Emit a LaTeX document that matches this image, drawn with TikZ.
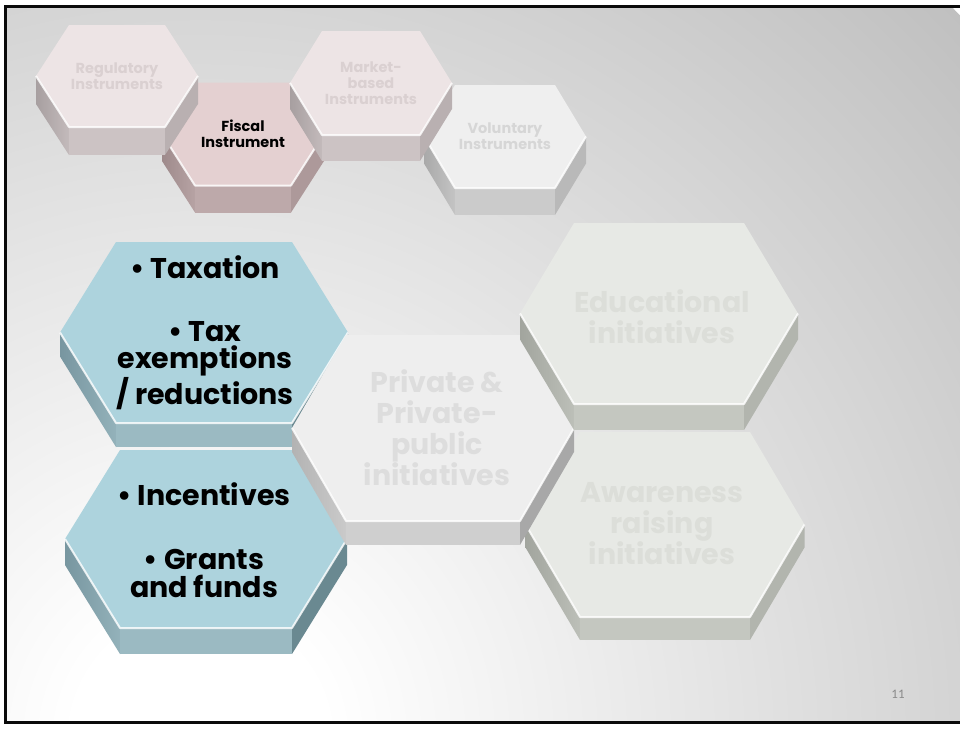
\documentclass[tikz,border=0pt]{standalone}
\usepackage{fontspec}
\setmainfont{Poppins}
\newfontfamily\pagenumfont{Carlito}

% palette
\definecolor{bgdark}{HTML}{C0C0C0}
\definecolor{frameblack}{HTML}{0A0A0A}
% pale rose
\definecolor{roseLtFace}{HTML}{EDE4E5}
\definecolor{roseLtBottom}{HTML}{CCC3C4}
\definecolor{roseLtSideA}{HTML}{A79FA0}
\definecolor{roseLtSideB}{HTML}{C3BABB}
\definecolor{roseLtRight}{HTML}{B9B0B1}
\definecolor{roseLtText}{HTML}{DAD0D1}
% rose (selected)
\definecolor{roseFace}{HTML}{E4D0D1}
\definecolor{roseBottom}{HTML}{BDA9AA}
\definecolor{roseSideA}{HTML}{9E8A8B}
\definecolor{roseSideB}{HTML}{B7A3A4}
\definecolor{roseRight}{HTML}{AD999A}
% silver
\definecolor{silverFace}{HTML}{EFEFEF}
\definecolor{silverBottom}{HTML}{CBCBCB}
\definecolor{silverSideA}{HTML}{A9A9A9}
\definecolor{silverSideB}{HTML}{C4C4C4}
\definecolor{silverRight}{HTML}{B9B9B9}
\definecolor{silverText}{HTML}{D6D6D6}
% blue
\definecolor{blueFace}{HTML}{ADD3DD}
\definecolor{blueBottom}{HTML}{9BBAC2}
\definecolor{blueSideA}{HTML}{7896A0}
\definecolor{blueSideB}{HTML}{93B2BA}
\definecolor{blueRight}{HTML}{6A8991}
% pale grey
\definecolor{paleFace}{HTML}{EEEEEE}
\definecolor{paleBottom}{HTML}{CFCFCF}
\definecolor{paleSideA}{HTML}{B3B3B3}
\definecolor{paleSideB}{HTML}{CACACA}
\definecolor{paleRight}{HTML}{A8A8A8}
\definecolor{paleText}{HTML}{DDDDDD}
% sage
\definecolor{sageFace}{HTML}{E7E9E5}
\definecolor{sageBottom}{HTML}{C4C7C0}
\definecolor{sageSideA}{HTML}{A2A59E}
\definecolor{sageSideB}{HTML}{BCBFB8}
\definecolor{sageRight}{HTML}{B2B5AE}
\definecolor{sageText}{HTML}{DCDED9}
\definecolor{pagenum}{HTML}{8A8A8A}

% slide backdrop: white in the lower left, grey towards the upper right
\pgfdeclareradialshading{backdrop}{\pgfpoint{0bp}{0bp}}{color(0bp)=(white); color(3bp)=(white); color(25bp)=(bgdark); color(50bp)=(bgdark)}

\tikzset{
  hexlabel/.style={align=center, inner sep=0pt},
  smalltext/.style={hexlabel, font=\bfseries\fontsize{14.5}{16}\selectfont},
  bigtext/.style={hexlabel, font=\bfseries\fontsize{28.5}{31}\selectfont},
  bluetext/.style={hexlabel, font=\bfseries\fontsize{28.5}{27.5}\selectfont, text=black},
  bevel/.style={draw=white, line width=2pt, draw opacity=0.8, line join=round},
  % colour sets for the hexagonal cells
  pRoseLt-face/.style={fill=roseLtFace},
  pRoseLt-bottom/.style={fill=roseLtBottom},
  pRoseLt-left/.style={left color=roseLtSideA, right color=roseLtSideB},
  pRoseLt-right/.style={fill=roseLtRight},
  pRose-face/.style={fill=roseFace},
  pRose-bottom/.style={fill=roseBottom},
  pRose-left/.style={left color=roseSideA, right color=roseSideB},
  pRose-right/.style={fill=roseRight},
  pSilver-face/.style={fill=silverFace},
  pSilver-bottom/.style={fill=silverBottom},
  pSilver-left/.style={left color=silverSideA, right color=silverSideB},
  pSilver-right/.style={fill=silverRight},
  pBlue-face/.style={fill=blueFace},
  pBlue-bottom/.style={fill=blueBottom},
  pBlue-left/.style={left color=blueSideA, right color=blueSideB},
  pBlue-right/.style={fill=blueRight},
  pPale-face/.style={fill=paleFace},
  pPale-bottom/.style={fill=paleBottom},
  pPale-left/.style={left color=paleSideA, right color=paleSideB},
  pPale-right/.style={fill=paleRight},
  pSage-face/.style={fill=sageFace},
  pSage-bottom/.style={fill=sageBottom},
  pSage-left/.style={left color=sageSideA, right color=sageSideB},
  pSage-right/.style={fill=sageRight},
}

% extruded hexagonal cell:
% #1 name, #2 cx, #3 cy, #4 half width, #5 half top edge, #6 half height, #7 depth, #8 colour set
\newcommand{\hexcell}[8]{%
  \coordinate (#1) at (#2,#3);
  \path[#8-left] ({#2-#4},#3) -- ({#2-#5},{#3+#6}) -- ({#2-#5},{#3+#6+#7}) -- ({#2-#4},{#3+#7}) -- cycle;
  \path[#8-bottom] ({#2-#5},{#3+#6}) -- ({#2+#5},{#3+#6}) -- ({#2+#5},{#3+#6+#7}) -- ({#2-#5},{#3+#6+#7}) -- cycle;
  \path[#8-right] ({#2+#5},{#3+#6}) -- ({#2+#4},#3) -- ({#2+#4},{#3+#7}) -- ({#2+#5},{#3+#6+#7}) -- cycle;
  \path[#8-face] ({#2-#4},#3) -- ({#2-#5},{#3-#6}) -- ({#2+#5},{#3-#6}) -- ({#2+#4},#3) -- ({#2+#5},{#3+#6}) -- ({#2-#5},{#3+#6}) -- cycle;
  \path[bevel] ({#2-#4},#3) -- ({#2-#5},{#3+#6}) -- ({#2+#5},{#3+#6}) -- ({#2+#4},#3);
}

\begin{document}
\begin{tikzpicture}[x=1pt, y=-1pt]
  \useasboundingbox (0,0) rectangle (960,731);
  \clip (0,0) rectangle (960,731);
  \fill[white] (0,0) rectangle (960,731);

  % slide backdrop
  \begin{scope}
    \clip (5,6) rectangle (962,722);
    \shade[shading=backdrop] (200,740) circle[radius=1050pt];
  \end{scope}
  \draw[frameblack, line width=3pt] (970,6.5) -- (5.5,6.5) -- (5.5,722) -- (970,722);

  % upper row of instruments
  \hexcell{fisc}{243}{134}{81}{48}{51.5}{27}{pRose}
  \hexcell{volc}{505}{136.5}{81}{50}{51.5}{27}{pSilver}
  \hexcell{regc}{117}{76}{81}{48}{51}{28}{pRoseLt}
  \hexcell{mktc}{371}{83}{81}{49}{52}{26}{pRoseLt}

  \node[smalltext, text=roseLtText] (reg) at (regc) {Regulatory\\Instruments};
  \node[smalltext, text=black] (fis) at (fisc) {Fiscal\\Instrument};
  \node[smalltext, text=roseLtText] (mkt) at (mktc) {Market-\\based\\Instruments};
  \node[smalltext, text=silverText] (vol) at (volc) {Voluntary\\Instruments};

  % lower cluster
  \hexcell{incc}{206}{539}{141}{86}{89}{26}{pBlue}
  \hexcell{taxc}{204}{332.5}{144}{88}{90.5}{24}{pBlue}
  \hexcell{awac}{665}{524.5}{139.5}{85}{92.5}{23}{pSage}
  \hexcell{privc}{433}{428}{141}{87}{93}{24}{pPale}
  \hexcell{educ}{659}{313.5}{139}{85}{90.5}{26}{pSage}

  \node[bluetext] (tax) at (205,333) {• Taxation\\[35pt]• Tax\\exemptions\\/ reductions};
  \node[bluetext] (inc) at (204,540) {• Incentives\\[37pt]• Grants\\and funds};
  \node[bigtext, text=paleText] (priv) at (437,428) {Private \&\\Private-\\public\\initiatives};
  \node[bigtext, text=sageText] (edu) at (662,317) {Educational\\initiatives};
  \node[bigtext, text=sageText] (awa) at (662,524) {Awareness\\raising\\initiatives};

  \node[font=\pagenumfont\fontsize{13}{15}\selectfont, text=pagenum, inner sep=0pt] (pgnum) at (898,694) {11};
\end{tikzpicture}
\end{document}
